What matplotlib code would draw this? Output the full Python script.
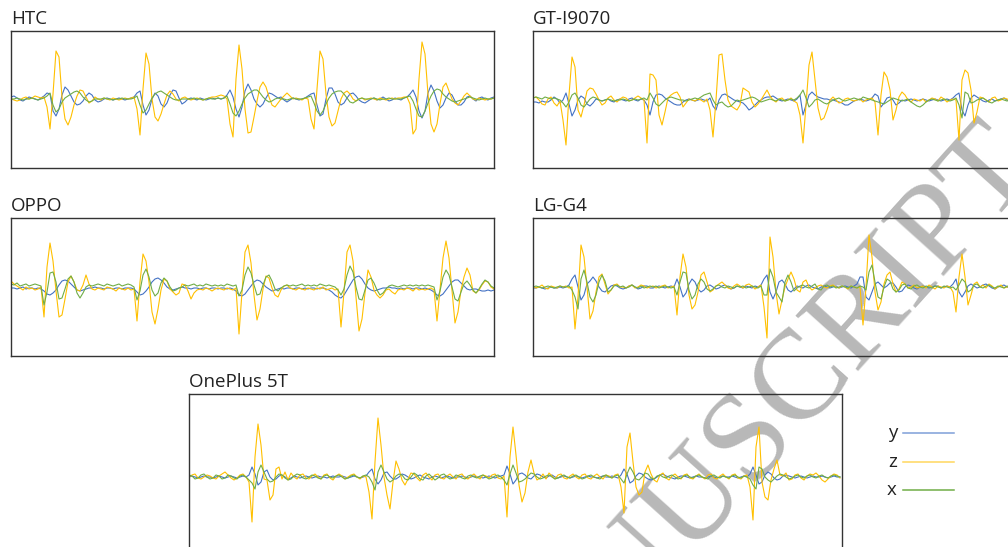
import numpy as np
import matplotlib
matplotlib.use("Agg")
import matplotlib.pyplot as plt
from matplotlib.lines import Line2D

# ---------------- data (acceleration traces, sampled every 3 px of time) -------------
htc_y = [2,3,1,-1,-2,0,2,1,0,-1, 1,3,6,5,-12,-17,-10,4,12,9, 3,-3,-6,-5,-2,3,6,4,-1,-3,
         -2,0,1,0,-1,0,1,0,-1,0, 1,2,6,8,-6,-16,-11,0,6,3, -5,-8,-4,4,9,8,1,-5,-3,0,
         1,0,-1,1,0,-1,0,1,0,1, 0,1,4,9,2,-10,-18,-8,8,15, 9,0,-5,-8,-5,1,6,5,3,1,
         2,-1,-3,-1,1,0,-1,0,1,3, 5,6,-6,-17,-15,0,11,11,5,-3, -6,-4,1,5,6,3,-1,-3,-4,-2,
         0,1,-1,0,2,0,-2,-1,1,0, -1,1,2,5,9,2,-12,-19,-12,6, 14,8,-2,-9,-6,1,6,4,-2,-6,
         -6,-3,2,3,0,-2,1,2,0,-1, 1,2]
htc_z = [0,-1,-2,-1,1,2,0,1,3,2, 1,2,-8,-30,5,48,42,2,-20,-26, -18,-6,3,9,8,2,-4,-2,2,0,
         -1,1,0,-1,1,0,-1,0,1,0, 1,2,-10,-36,10,46,35,0,-18,-22, -15,-5,4,8,5,0,-2,1,2,0,
         -1,0,1,0,-1,0,1,2,2,3, 4,3,0,-25,-38,20,54,30,-10,-34, -33,-18,-2,12,17,12,2,-6,-8,-4,
         0,3,6,3,0,1,0,-1,1,0, -20,-30,10,48,40,5,-18,-27,-24,-12, 0,6,8,5,0,-2,0,1,-1,0,
         1,0,-1,1,0,-1,0,1,0,1, 1,2,2,-5,-35,-30,20,57,45,5, -25,-33,-25,-5,12,16,8,0,-4,-6,
         -2,3,6,3,0,-1,1,0,-1,0, 0,1]
htc_x = [0,0,1,0,-1,0,0,1,0,-1, 0,1,3,6,-6,-13,-10,-3,1,3, 5,7,8,6,2,-1,-3,-2,0,0,
         0,1,0,0,-1,0,0,1,0,0, 0,1,3,-6,-14,-11,-5,1,5,7, 8,6,4,2,0,-1,-1,0,0,0,
         0,1,0,0,-1,0,1,0,0,1, 0,1,3,-5,-14,-17,-12,-5,1,5, 7,9,9,6,2,-1,-3,-2,0,1,
         0,0,-1,0,1,0,0,0,1,2, 3,-4,-12,-16,-12,-5,1,5,7,8, 8,5,1,-3,-4,-2,0,1,0,0,
         0,1,0,-1,0,0,1,0,0,0, 0,1,2,3,-2,-10,-17,-18,-12,-4, 3,8,10,9,5,2,0,-2,-3,-2,
         -1,0,1,2,1,0,-1,0,1,0, 0,1]

gt_y = [-2,-2,-3,-1,-2,-2,0,3,1,-3, 0,7,-4,-16,-10,0,4,2,-4,-6, -3,1,0,-1,0,1,-1,-2,0,1,
        0,-1,1,2,0,-1,1,0,-5,-15, -2,5,6,5,2,0,-2,-4,-5,-5, -2,0,1,0,-1,0,1,0,-1,2,
        -6,-10,0,5,6,4,2,0,-1,-2, -3,-6,-10,-8,-5,-2,0,2,3,3, 4,2,0,-1,0,1,0,-1,1,5,
        -15,-5,5,8,5,3,2,1,1,0, 0,-1,-2,-3,-5,-5,-3,-1,0,1, 0,-1,0,2,6,4,-7,-3,2,3,
        0,-5,-3,0,-1,0,1,0,-1,0, 1,0,-1,0,1,0,-1,0,1,0, 2,5,7,-10,-16,-5,2,5,3,1,
        -1,-2,0,1,-1,0,1,2,0,-1, 0,0]
gt_z = [2,3,0,-4,-5,1,3,-3,-6,-1, -20,-45,5,43,33,-10,-17,-5,9,12, 11,6,0,-5,-3,2,4,0,-2,1,
        3,2,-1,0,2,4,2,0,-43,26, 25,20,-15,-25,-12,2,5,7,8,3, -7,-3,1,0,-1,1,0,-2,1,-10,
        -37,0,45,46,20,0,-6,-8,-10,-5, 12,10,8,-2,-7,-4,0,5,10,4, 0,-2,1,2,-1,0,2,-1,-3,-15,
        -43,-5,35,48,20,-8,-20,-18,-10,0, 3,0,-3,-2,1,2,0,-1,0,1, -2,0,1,2,-2,-35,5,28,23,10,
        -20,-10,3,8,5,0,-2,1,0,-1, 1,-2,0,2,1,-1,3,1,-2,0, 1,0,-40,20,30,27,10,-23,-12,3,
        2,0,-2,2,3,-1,0,2,1,0, -1,0]
gt_x = [2,3,2,1,3,2,1,2,1,0, -3,-7,-2,5,7,2,-5,-7,-3,1, 3,2,0,-1,0,1,0,-1,0,0,
        1,0,-1,0,1,0,1,2,0,7, 2,-4,-6,-3,0,2,3,2,1,0, 0,-1,0,1,2,1,3,5,6,7,
        0,-5,-3,-2,-5,-7,-6,-3,0,-1, 0,1,2,3,2,0,-2,-1,0,1, 0,-1,1,0,-1,0,1,0,2,5,
        10,2,-7,-4,0,1,-1,-3,-4,-2, 0,1,2,0,-1,0,1,2,1,0, 3,2,1,0,-1,-2,-3,-4,-2,0,
        2,1,0,-1,0,1,-2,-4,-6,-7, -5,-2,0,1,0,-1,0,1,0,-1, 0,2,-5,-18,8,6,-3,-2,0,1,
        2,0,-2,-3,-1,0,1,0,-1,0, 0,0]

oppo_y = [-1,-1,-2,-1,0,-2,-1,-1,-2,-1, -2,-4,-7,-8,-6,-3,2,6,7,6, 3,0,-3,-4,-3,-2,-1,-1,0,-1,
          -1,-2,-1,-1,-2,-1,-1,-2,-1,-1, -1,-2,-5,-8,-7,-4,0,5,8,9, 7,4,0,-2,-3,-2,-1,0,-1,-1,
          -2,-1,-1,-2,-1,-1,-2,-1,-1,-2, -1,-1,-2,-1,-2,-4,-8,-9,-7,-3, 1,5,7,6,3,0,-2,-4,-3,-2,
          -1,-2,-1,-1,-2,-1,-1,-2,-1,-2, -1,-1,-2,-1,-1,-2,-3,-5,-8,-10, -11,-8,-3,2,7,10,11,8,3,-1,
          -3,-4,-3,-2,-1,-1,0,-1,-1,-2, -1,-2,-1,-1,-2,-1,-1,-2,-1,-2, -3,-5,-8,-9,-7,-3,1,5,7,7,
          4,1,-2,-3,-2,-2,-3,-4,-4,-3, -4,-3]
oppo_z = [6,3,1,-1,-3,0,-2,-1,-3,-2, 0,-30,20,44,26,-4,-30,-28,-12,5, 11,5,-3,-4,2,12,3,-2,-3,-1,
          -2,-3,0,-1,-2,-4,-1,-2,-3,-1, -3,-2,-34,5,33,26,5,-25,-37,-22, -3,8,6,-2,-5,-8,-6,3,2,-4,
          -12,-6,-3,-2,-3,-1,-2,-4,-2,-1, -2,-3,-1,-2,-3,-1,-47,-5,35,42, 24,-8,-33,-22,-2,11,9,-1,-8,-10,
          -3,1,2,-1,-2,-3,-1,-2,-3,-1, -2,-3,-1,-2,0,-3,-2,-1,-3,-2, -40,-5,35,42,26,-10,-44,-32,-6,17,
          10,-3,-8,-11,-8,-3,-2,-5,-7,-3, -2,-3,-1,-2,-4,-1,-3,-2,-3,-2, -1,-3,-34,-2,29,46,29,-4,-36,-25,
          -3,10,19,12,-4,-6,-3,2,6,5, 0,-2]
oppo_x = [3,2,4,1,2,3,1,2,3,2, 1,-18,-5,14,15,5,-12,-11,-2,8, 11,5,-6,-11,-6,0,2,1,2,3,
          2,1,3,2,1,2,3,1,2,3, 2,0,-13,-4,12,18,10,-3,-9,-6, 4,9,6,0,-4,-3,-1,0,2,1,
          2,3,1,2,1,3,2,1,2,1, 2,1,3,2,1,2,-9,-3,12,20, 14,2,-8,-7,2,10,12,6,-2,-4,
          -1,1,2,1,2,1,2,3,1,2, 1,2,1,3,2,1,2,1,0,-3, -8,-2,12,21,15,0,-12,-13,-3,7,
          9,4,-3,-8,-6,-2,1,2,1,0, 1,2,1,2,1,2,1,2,1,2, 1,0,-13,-4,10,17,12,0,-12,-14,
          -5,3,6,2,-3,-6,-2,3,7,5, 1,-1]

lg_y = [-1,-1,0,-1,-2,-1,0,-1,-1,0, -1,0,2,8,12,0,-13,-8,3,6, 10,6,0,-4,-5,-2,1,2,1,-1,
        -2,-1,1,2,0,-2,-1,1,1,-1, -1,0,1,0,-1,0,1,0,8,0, -10,-6,3,8,5,-2,-5,-3,1,2,
        0,-2,-1,1,2,0,-2,-1,1,0, -1,1,0,-1,1,0,2,8,12,-5, -12,-5,5,7,3,-3,-5,-2,1,0,
        -1,1,2,0,-1,-2,0,1,0,-1, 0,1,-1,0,1,0,-1,1,3,10, 10,-10,-13,-5,3,5,2,-1,1,4,
        4,0,-5,-4,0,2,1,-1,-2,0, 1,0,-1,0,1,1,-1,0,1,0, 3,8,-5,-10,-5,1,3,1,-1,0,
        2,3,1,-1,-2,0,1,2,0,-1, 0,1]
lg_z = [1,-1,0,2,-1,-2,1,0,-1,1, 0,1,-1,0,-42,-10,42,30,0,-32, -24,-5,10,13,3,-7,-3,2,3,0,
        0,-1,1,2,-1,0,2,1,-1,0, 1,-1,0,1,2,-1,0,1,-28,10, 33,20,-8,-22,-18,-5,12,15,5,-5,
        -3,1,3,5,2,-1,-2,1,3,1, -1,2,3,1,-2,0,2,-20,-51,50, 30,-5,-27,-13,0,8,15,8,-3,-5,
        5,7,0,-3,-1,1,2,0,-1,1, 2,0,-1,1,0,-2,1,0,-1,0, -38,0,52,30,-5,-23,-15,3,12,15,
        3,-5,-2,5,3,-1,0,2,-1,0, 1,-1,2,0,-2,1,0,-1,1,0, -5,-25,10,33,10,-18,-8,3,5,0,
        2,-1,3,1,-2,0,2,-1,0,1, 0,-1]
lg_x = [0,1,0,-1,0,1,0,-1,0,1, 0,0,1,-3,-10,-22,8,17,5,-10, -15,-8,5,12,6,-5,-3,1,2,0,
        1,-1,0,2,0,-1,1,-1,0,1, 0,1,-1,0,1,0,-1,0,-8,5, 15,14,-3,-12,-8,3,8,5,-2,-4,
        -2,1,2,0,-1,1,0,-1,1,0, 1,-1,0,1,0,-1,1,-8,-8,18, 10,-5,-10,-15,5,12,5,-4,-1,1,
        2,0,-1,1,3,-2,-3,1,2,0, 1,-1,0,1,0,-1,1,0,-1,1, 0,-3,15,22,5,-10,-12,0,8,6,
        -2,-5,-3,2,3,-1,-2,1,2,0, -1,1,0,-1,1,0,-1,1,0,-1, 0,-3,2,8,5,-5,-3,2,3,0,
        -1,1,2,0,-1,1,0,-1,1,0, 0,1]

op_y = [0,1,0,-1,0,1,0,0,-1,0, 1,0,-1,0,1,0,-1,0,1,0, 2,10,3,-8,-5,5,7,0,-3,-2,
        1,2,0,-2,-1,1,0,-1,0,1, 0,-1,0,1,0,0,-1,0,1,0, 0,1,0,-1,0,1,0,-1,0,1,
        5,8,-2,-7,-3,4,5,1,-2,-2, 0,3,2,0,-2,-1,1,2,0,-1, -2,0,1,0,-1,0,1,0,-1,0,
        0,1,0,-1,0,1,0,0,-1,0, 1,0,-1,0,1,2,11,3,-7,-3, 3,4,2,-1,-2,1,3,2,0,-1,
        1,2,0,-1,0,1,0,-1,0,1, 0,-1,0,1,0,0,-1,0,1,0, 0,1,0,-1,2,8,3,-6,-4,1,
        4,3,0,-2,-3,-2,0,2,3,1, 0,-1,-2,0,1,1,0,-1,0,1, 0,0,-1,0,1,0,-1,0,1,0,
        0,1,0,-1,0,1,0,3,10,2, -7,-5,2,5,3,-1,-3,-2,1,2, 1,0,-1,0,1,0,-1,0,1,0,
        0,1,0,-1,0,1,0,0]
op_z = [0,2,3,-1,-2,0,2,1,-1,-2, 1,3,5,2,-1,-3,-1,2,3,0, -5,-45,20,53,32,-2,-3,-23,-18,8,
        10,-2,5,-3,4,0,-2,2,3,-1, -2,1,3,0,-2,2,3,-1,-3,1, 3,1,-2,0,2,3,0,-2,1,0,
        -15,-42,15,59,32,0,-18,-32,-5,16, 8,-3,-8,-2,4,3,-1,-4,2,4, 0,-3,2,3,-1,-2,1,3,0,-2,
        2,3,-1,-2,1,3,0,-2,2,1, -1,2,3,-1,-2,1,-40,20,50,22, -8,-25,-16,5,17,4,-3,-1,3,-2,
        4,1,-2,2,3,-1,-2,1,3,0, -2,2,3,-1,-2,1,3,0,-2,2, 1,-1,2,3,-10,-36,30,44,15,-10,
        -18,-15,5,12,3,-3,-5,2,4,-1, -3,1,3,0,-2,2,3,-1,-2,1, 3,0,-2,2,3,-1,-2,1,3,0,
        -2,2,3,-1,-2,1,2,-10,-43,30, 50,-5,-20,-23,-3,8,17,2,1,4, -3,-2,2,3,-1,-3,1,3,2,4,
        1,-3,-5,-2,1,3,2,-1]
op_x = [2,1,-2,-1,2,3,0,-2,-1,2, 1,-2,-1,2,1,-1,-2,1,2,0, -3,-6,-12,5,12,5,-2,-5,-4,0,
        3,2,-1,-3,-2,1,3,2,-1,-2, 0,2,1,-1,-2,1,2,0,-1,1, 2,0,-2,-1,1,2,0,-1,1,2,
        0,-5,-13,5,12,5,-2,-5,-3,1, 3,2,-2,-3,0,4,2,-2,-3,1, 3,0,-3,-1,2,3,0,-2,-1,2,
        1,-1,-2,1,2,0,-1,1,2,0, -2,-1,1,2,0,-3,-8,3,12,4, -5,-4,-2,1,4,3,0,-2,-1,1,
        2,0,-2,-1,1,2,0,-1,1,2, 0,-2,-1,1,2,0,-1,-2,1,2, 0,-1,1,2,-2,-6,3,10,5,-2,
        -3,0,4,3,-1,-2,1,2,0,-1, 1,2,0,-2,-1,1,2,0,-1,1, 2,0,-1,-2,1,2,0,-1,1,0,
        -1,1,2,0,-1,1,0,-2,-8,-12, 10,8,0,-3,-5,-2,1,3,2,0, -2,-1,1,2,0,-1,1,2,0,-1,
        1,2,0,-1,1,2,1,0]

titles = ["HTC", "GT-I9070", "OPPO", "LG-G4", "OnePlus 5T"]
series_labels = ["y", "z", "x"]
panels_data = [
    (htc_y, htc_z, htc_x),
    (gt_y, gt_z, gt_x),
    (oppo_y, oppo_z, oppo_x),
    (lg_y, lg_z, lg_x),
    (op_y, op_z, op_x),
]

# ---------------- layout (pixels) ----------------
W, H = 1008, 547
# left, top, right, bottom, baseline_y, title_baseline, x_extent (index units)
boxes = [
    (11, 31, 494, 168, 99, 24, 161),
    (533, 31, 1016, 168, 100, 24, 161),
    (11, 218, 494, 356, 287, 211, 161),
    (533, 218, 1016, 356, 287, 211, 161),
    (189, 394, 842, 562, 477, 387, 217.67),
]
colors = {"y": "#4472C4", "z": "#FFC000", "x": "#70AD47"}
legend_colors = {"y": "#7F9FD8", "z": "#FFD75E", "x": "#70AD47"}

plt.rcParams['font.family'] = ['Open Sans', 'DejaVu Sans']
fig = plt.figure(figsize=(W / 100, H / 100), dpi=100)
fig.patch.set_facecolor("white")

for (l, t, r, b, base, tb, xe), data, title in zip(boxes, panels_data, titles):
    ax = fig.add_axes([l / W, 1 - b / H, (r - l) / W, (b - t) / H])
    ax.set_facecolor("none")
    for lab, vals in zip(series_labels, data):
        ax.plot(np.arange(len(vals)), vals, color=colors[lab], lw=0.8,
                solid_joinstyle="round")
    ax.set_xlim(0, xe)
    ax.set_ylim(-(b - base), base - t)
    ax.set_xticks([])
    ax.set_yticks([])
    for s in ax.spines.values():
        s.set_color("#333333")
        s.set_linewidth(1.0)
    fig.text(l / W, 1 - tb / H, title, fontsize=13.5, color="#222222",
             ha="left", va="baseline")

# legend
for lab, ly in zip(series_labels, [433, 462, 490]):
    fig.add_artist(Line2D([903 / W, 954 / W], [1 - ly / H, 1 - ly / H],
                          color=legend_colors[lab], lw=1.1))
    fig.text(897 / W, 1 - (ly + 5) / H, lab, fontsize=13.5, color="#222222",
             ha="right", va="baseline")

# watermark
fig.text(742 / W, 1 - 451 / H, "MANUSCRIPT", fontsize=92, color="#b8b8b8",
         family="Liberation Serif", rotation=48.0, rotation_mode="anchor",
         ha="center", va="center", zorder=-5)

fig.savefig("out.png", dpi=100)
